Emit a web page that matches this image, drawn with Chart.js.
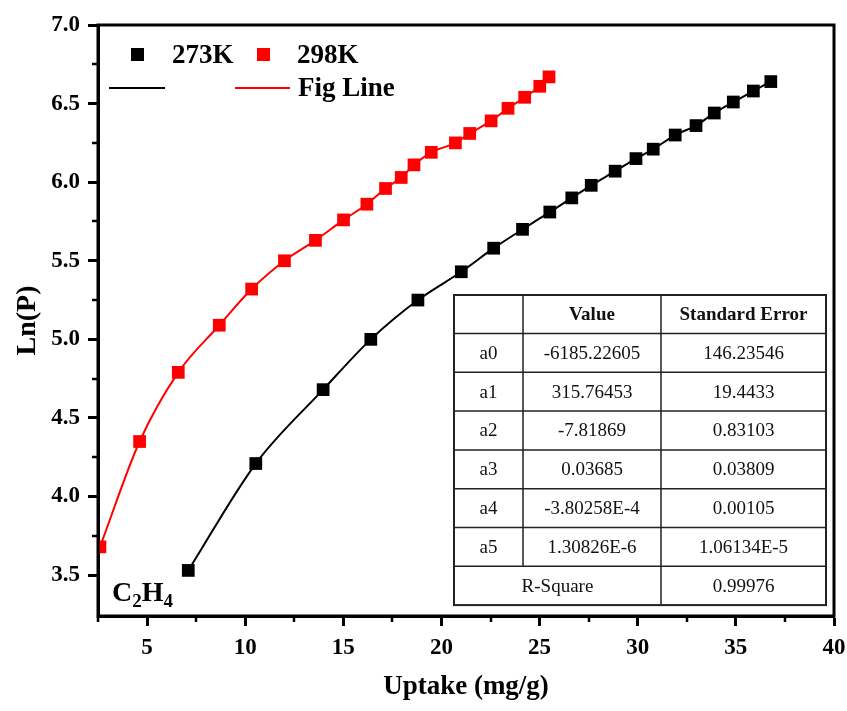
<!DOCTYPE html>
<html>
<head>
<meta charset="utf-8">
<title>C2H4 Ln(P) vs uptake</title>
<script src="https://cdn.jsdelivr.net/npm/chart.js@4/dist/chart.umd.min.js"></script>
<style>
  html, body { margin: 0; padding: 0; background: #fff; }
  #wrap { width: 847px; height: 711px; }
</style>
</head>
<body>
<div id="wrap"><canvas id="chart" width="847" height="711"></canvas></div>
<script>
// 273K isotherm points
var x273 = [7.10, 10.54, 13.97, 16.40, 18.80, 21.01, 22.66, 24.13, 25.52, 26.64,
            27.63, 28.85, 29.91, 30.79, 31.91, 32.97, 33.90, 34.87, 35.89, 36.78];
var y273 = [3.53, 4.21, 4.68, 5.00, 5.25, 5.43, 5.58, 5.70, 5.81, 5.90,
            5.98, 6.07, 6.15, 6.21, 6.30, 6.36, 6.44, 6.51, 6.58, 6.64];
// 298K isotherm points
var x298 = [2.60, 4.62, 6.59, 8.68, 10.33, 12.00, 13.58, 15.01, 16.20, 17.15,
            17.95, 18.60, 19.48, 20.71, 21.44, 22.53, 23.39, 24.24, 25.01, 25.48];
var y298 = [3.68, 4.35, 4.79, 5.09, 5.32, 5.50, 5.63, 5.76, 5.86, 5.96,
            6.03, 6.11, 6.19, 6.25, 6.31, 6.39, 6.47, 6.54, 6.61, 6.67];

var xTicks = [5, 10, 15, 20, 25, 30, 35, 40];
var xMinor = [2.5, 7.5, 12.5, 17.5, 22.5, 27.5, 32.5, 37.5];
var yTicks = [3.5, 4.0, 4.5, 5.0, 5.5, 6.0, 6.5, 7.0];
var yMinor = [3.75, 4.25, 4.75, 5.25, 5.75, 6.25, 6.75];

// fit parameter table
var tableHead = ['', 'Value', 'Standard Error'];
var paramNames = ['a0', 'a1', 'a2', 'a3', 'a4', 'a5'];
var paramValues = ['-6185.22605', '315.76453', '-7.81869', '0.03685', '-3.80258E-4', '1.30826E-6'];
var paramErrors = ['146.23546', '19.4433', '0.83103', '0.03809', '0.00105', '1.06134E-5'];
var rSquare = '0.99976';

var SERIF = '"Liberation Serif", "Times New Roman", serif';

function pts(xs, ys) {
    var out = [];
    for (var i = 0; i < xs.length; i++) {
        out.push({x: xs[i], y: ys[i]});
    }
    return out;
}

// legend, table, label, minor ticks and box frame
var extras = {
    id: 'extras',
    afterDraw: function(chart) {
        var ctx = chart.ctx;
        var a = chart.chartArea;
        var xs = chart.scales.x, ys = chart.scales.y;
        var ds = chart.data.datasets;
        ctx.save();

        // minor ticks
        ctx.strokeStyle = '#000';
        ctx.lineWidth = 2.5;
        ctx.beginPath();
        xMinor.forEach(function(v) {
            var px = Math.round(xs.getPixelForValue(v));
            ctx.moveTo(px, a.bottom);
            ctx.lineTo(px, a.bottom + 6);
        });
        yMinor.forEach(function(v) {
            var py = Math.round(ys.getPixelForValue(v));
            ctx.moveTo(a.left, py);
            ctx.lineTo(a.left - 6, py);
        });
        ctx.stroke();

        // frame
        ctx.lineWidth = 3;
        ctx.strokeRect(a.left, a.top, a.right - a.left, a.bottom - a.top);

        // legend
        ctx.font = 'bold 27px ' + SERIF;
        ctx.textBaseline = 'middle';
        ctx.textAlign = 'left';
        ctx.fillStyle = ds[0].backgroundColor;
        ctx.fillRect(131, 48, 13, 13);
        ctx.fillStyle = '#000';
        ctx.fillText(ds[0].label, 172, 56);
        ctx.fillStyle = ds[1].backgroundColor;
        ctx.fillRect(257, 48, 13, 13);
        ctx.fillStyle = '#000';
        ctx.fillText(ds[1].label, 297, 56);

        ctx.lineWidth = 2;
        ctx.strokeStyle = ds[2].borderColor;
        ctx.beginPath(); ctx.moveTo(109, 88); ctx.lineTo(165, 88); ctx.stroke();
        ctx.strokeStyle = ds[3].borderColor;
        ctx.beginPath(); ctx.moveTo(235, 88); ctx.lineTo(290, 88); ctx.stroke();
        ctx.fillStyle = '#000';
        ctx.fillText(ds[3].label, 298, 89);

        // C2H4 label
        ctx.textBaseline = 'alphabetic';
        var lx = 112, ly = 601;
        ctx.font = 'bold 28px ' + SERIF;
        ctx.fillText('C', lx, ly); lx += ctx.measureText('C').width;
        ctx.font = 'bold 19px ' + SERIF;
        ctx.fillText('2', lx, ly + 6); lx += ctx.measureText('2').width;
        ctx.font = 'bold 28px ' + SERIF;
        ctx.fillText('H', lx, ly); lx += ctx.measureText('H').width;
        ctx.font = 'bold 19px ' + SERIF;
        ctx.fillText('4', lx, ly + 6);

        // parameter table
        var tx = [454, 523, 661, 826];
        var ty = [295, 333.5];
        for (var r = 0; r < 7; r++) ty.push(333.5 + (r + 1) * 38.8);
        ctx.fillStyle = '#fff';
        ctx.fillRect(tx[0], ty[0], tx[3] - tx[0], ty[8] - ty[0]);
        ctx.strokeStyle = '#222';
        ctx.lineWidth = 2;
        ctx.strokeRect(tx[0], ty[0], tx[3] - tx[0], ty[8] - ty[0]);
        ctx.lineWidth = 1.5;
        ctx.beginPath();
        for (var i = 1; i < 8; i++) {
            ctx.moveTo(tx[0], ty[i]); ctx.lineTo(tx[3], ty[i]);
        }
        ctx.moveTo(tx[1], ty[0]); ctx.lineTo(tx[1], ty[7]);
        ctx.moveTo(tx[2], ty[0]); ctx.lineTo(tx[2], ty[8]);
        ctx.stroke();

        ctx.fillStyle = '#111';
        ctx.textAlign = 'center';
        ctx.textBaseline = 'middle';
        var cx = [(tx[0] + tx[1]) / 2, (tx[1] + tx[2]) / 2, (tx[2] + tx[3]) / 2];
        ctx.font = 'bold 19px ' + SERIF;
        for (var c = 0; c < 3; c++) ctx.fillText(tableHead[c], cx[c], (ty[0] + ty[1]) / 2 + 1);
        ctx.font = '19px ' + SERIF;
        for (var k = 0; k < paramNames.length; k++) {
            var my = (ty[k + 1] + ty[k + 2]) / 2 + 1;
            ctx.fillText(paramNames[k], cx[0], my);
            ctx.fillText(paramValues[k], cx[1], my);
            ctx.fillText(paramErrors[k], cx[2], my);
        }
        var ry = (ty[7] + ty[8]) / 2 + 1;
        ctx.fillText('R-Square', (tx[0] + tx[2]) / 2, ry);
        ctx.fillText(rSquare, cx[2], ry);

        ctx.restore();
    }
};

var axisFont = {family: SERIF, size: 23, weight: 'bold'};

new Chart(document.getElementById('chart'), {
    type: 'scatter',
    data: {
        datasets: [
            {
                label: '273K', data: pts(x273, y273),
                backgroundColor: '#000', borderColor: '#000', borderWidth: 0,
                pointStyle: 'rect', pointRadius: 9, pointHoverRadius: 9,
                clip: 0, order: 0
            },
            {
                label: '298K', data: pts(x298, y298),
                backgroundColor: '#ff0000', borderColor: '#ff0000', borderWidth: 0,
                pointStyle: 'rect', pointRadius: 9, pointHoverRadius: 9,
                clip: 0, order: 1
            },
            {
                label: '', data: pts(x273, y273),
                showLine: true, borderColor: '#000', borderWidth: 2,
                pointRadius: 0, cubicInterpolationMode: 'monotone', order: 2
            },
            {
                label: 'Fig Line', data: pts(x298, y298),
                showLine: true, borderColor: '#ff0000', borderWidth: 2,
                pointRadius: 0, cubicInterpolationMode: 'monotone', order: 3
            }
        ]
    },
    options: {
        responsive: false,
        animation: false,
        devicePixelRatio: 1,
        layout: {padding: {top: 25, right: 13, left: 0, bottom: 0}},
        plugins: {
            legend: {display: false},
            tooltip: {enabled: false}
        },
        scales: {
            x: {
                type: 'linear', min: 2.5, max: 40,
                afterBuildTicks: function(s) { s.ticks = xTicks.map(function(v) { return {value: v}; }); },
                afterFit: function(s) { s.height = 95; s.paddingLeft = 0; s.paddingRight = 0; },
                ticks: {font: axisFont, color: '#000', padding: 8, autoSkip: false, maxRotation: 0,
                        callback: function(v) { return String(v); }},
                grid: {drawOnChartArea: false, tickLength: 10, tickWidth: 3, color: '#000'},
                border: {display: true, width: 3, color: '#000'},
                title: {display: true, text: 'Uptake (mg/g)', color: '#000',
                        font: {family: SERIF, size: 27, weight: 'bold'}, padding: {bottom: 8}}
            },
            y: {
                type: 'linear', min: 3.24, max: 7.0,
                afterBuildTicks: function(s) { s.ticks = yTicks.map(function(v) { return {value: v}; }); },
                afterFit: function(s) { s.width = 98; s.paddingTop = 0; s.paddingBottom = 0; },
                ticks: {font: axisFont, color: '#000', padding: 8,
                        callback: function(v) { return v.toFixed(1); }},
                grid: {drawOnChartArea: false, tickLength: 10, tickWidth: 3, color: '#000'},
                border: {display: true, width: 3, color: '#000'},
                title: {display: true, text: 'Ln(P)', color: '#000',
                        font: {family: SERIF, size: 28, weight: 'bold'}, padding: {top: 11}}
            }
        }
    },
    plugins: [extras]
});
</script>
</body>
</html>
